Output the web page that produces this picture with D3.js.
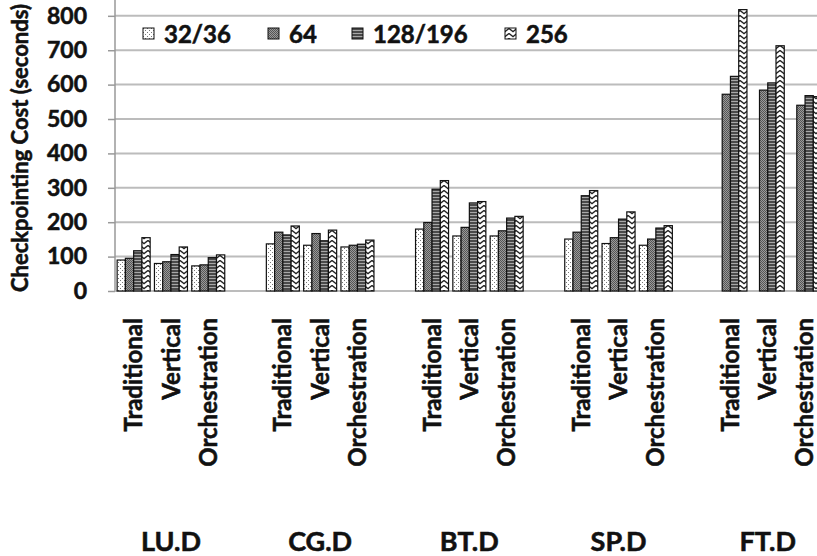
<!DOCTYPE html>
<html>
<head>
<meta charset="utf-8">
<script src="https://cdn.jsdelivr.net/npm/d3@7"></script>
<style>
  html, body { margin: 0; padding: 0; background: #fff; }
  svg { display: block; font-family: Lato, "Open Sans", sans-serif; font-weight: 700; }
  svg text { stroke: #111; stroke-width: 0.55px; }
</style>
</head>
<body>
<svg id="chart" width="817" height="556"></svg>
<script>
// Benchmarks, checkpointing schemes and process counts
const benchmarks = ["LU.D", "CG.D", "BT.D", "SP.D", "FT.D"];
const schemes = ["Traditional", "Vertical", "Orchestration"];
const seriesNames = ["32/36", "64", "128/196", "256"];

// Checkpointing cost in seconds, ordered benchmark by benchmark,
// Traditional / Vertical / Orchestration within each benchmark
const cost32 = [90, 80, 73, 137, 133, 128, 180, 160, 160, 151, 138, 133, null, null, null];
const cost64 = [95, 85, 76, 171, 167, 133, 199, 185, 175, 171, 155, 151, 572, 584, 540];
const cost128 = [117, 106, 97, 163, 146, 136, 296, 256, 212, 277, 209, 183, 624, 605, 568];
const cost256 = [155, 128, 105, 189, 177, 148, 321, 260, 217, 292, 230, 190, 818, 713, 565];

const yTicks = [0, 100, 200, 300, 400, 500, 600, 700, 800];

const seriesValues = [cost32, cost64, cost128, cost256];
const rows = [];
benchmarks.forEach((b, bi) => {
  schemes.forEach((s, si) => {
    seriesNames.forEach((n, ni) => {
      const v = seriesValues[ni][bi * schemes.length + si];
      if (v != null) rows.push({ bench: b, scheme: s, series: n, value: v });
    });
  });
});

const svg = d3.select("#chart");
const W = 817, H = 556;
const axisX = 115, step = 149.2;

// Patterns for the four series
const defs = svg.append("defs");
const pDots = defs.append("pattern").attr("id", "p32").attr("patternUnits", "userSpaceOnUse")
  .attr("width", 4).attr("height", 4);
pDots.append("rect").attr("width", 4).attr("height", 4).attr("fill", "#fff");
pDots.append("rect").attr("x", 0).attr("y", 0).attr("width", 1).attr("height", 1).attr("fill", "#777");
pDots.append("rect").attr("x", 2).attr("y", 2).attr("width", 1).attr("height", 1).attr("fill", "#777");

const pGrey = defs.append("pattern").attr("id", "p64").attr("patternUnits", "userSpaceOnUse")
  .attr("width", 2).attr("height", 2);
pGrey.append("rect").attr("width", 2).attr("height", 2).attr("fill", "#9a9a9a");
pGrey.append("rect").attr("x", 0).attr("y", 0).attr("width", 1).attr("height", 1).attr("fill", "#555");
pGrey.append("rect").attr("x", 1).attr("y", 1).attr("width", 1).attr("height", 1).attr("fill", "#555");

const pLines = defs.append("pattern").attr("id", "p128").attr("patternUnits", "userSpaceOnUse")
  .attr("width", 4).attr("height", 3);
pLines.append("rect").attr("width", 4).attr("height", 3).attr("fill", "#4a4a4a");
pLines.append("rect").attr("x", 0).attr("y", 2).attr("width", 4).attr("height", 1).attr("fill", "#a8a8a8");

const pWave = defs.append("pattern").attr("id", "p256").attr("patternUnits", "userSpaceOnUse")
  .attr("width", 8).attr("height", 5);
pWave.append("rect").attr("width", 8).attr("height", 5).attr("fill", "#fff");
pWave.append("path").attr("d", "M-1,4.5 L4,0.5 L9,4.5").attr("fill", "none")
  .attr("stroke", "#222").attr("stroke-width", 1.4);

const fills = { "32/36": "url(#p32)", "64": "url(#p64)", "128/196": "url(#p128)", "256": "url(#p256)" };

// Scales
const y = d3.scaleLinear().domain([0, 846]).range([291, 0]);
const x0 = d3.scaleBand().domain(benchmarks).range([axisX, axisX + step * benchmarks.length]).padding(0);
const x1 = d3.scaleBand().domain(schemes).range([0, x0.bandwidth() * 0.75]).padding(0);
const x2 = d3.scaleBand().domain(seriesNames).range([0, x1.bandwidth()]).paddingInner(0).paddingOuter(0.26);

// Gridlines
svg.append("g").selectAll("line").data(yTicks.filter(t => t > 0)).join("line")
  .attr("x1", axisX).attr("x2", W)
  .attr("y1", d => y(d)).attr("y2", d => y(d))
  .attr("stroke", "#bcbcbc").attr("stroke-width", 2);

// Y axis
const yAxis = d3.axisLeft(y).tickValues(yTicks).tickSize(7).tickPadding(21);
const gy = svg.append("g").attr("transform", `translate(${axisX},0)`).call(yAxis);
gy.select(".domain").remove();
gy.selectAll(".tick line").attr("stroke", "#999").attr("stroke-width", 1.5);
gy.selectAll(".tick text").attr("fill", "#111").style("font-size", "23px")
  .style("font-family", "Lato, sans-serif").style("font-weight", 700);
svg.append("line").attr("x1", axisX).attr("x2", axisX).attr("y1", 0).attr("y2", y(0))
  .attr("stroke", "#999").attr("stroke-width", 1.5);
svg.append("line").attr("x1", axisX).attr("x2", W).attr("y1", y(0)).attr("y2", y(0))
  .attr("stroke", "#bcbcbc").attr("stroke-width", 2);

// Bars
svg.append("g").selectAll("rect").data(rows).join("rect")
  .attr("x", d => x0(d.bench) + x1(d.scheme) + x2(d.series))
  .attr("y", d => y(d.value))
  .attr("width", x2.bandwidth())
  .attr("height", d => y(0) - y(d.value))
  .attr("fill", d => fills[d.series])
  .attr("stroke", "#111").attr("stroke-width", 1.2);

// Scheme labels under each cluster (kept inside the right edge)
const schemeLabels = [];
benchmarks.forEach(b => schemes.forEach(s => schemeLabels.push({ b, s })));
svg.append("g").selectAll("text").data(schemeLabels).join("text")
  .attr("transform", d => {
    const cx = Math.min(x0(d.b) + x1(d.s) + x1.bandwidth() / 2, W - 13);
    return `translate(${cx},318) rotate(-90)`;
  })
  .attr("text-anchor", "end").attr("dy", "0.36em")
  .attr("fill", "#111").style("font-size", "24px")
  .text(d => d.s);

// Benchmark labels
svg.append("g").selectAll("text").data(benchmarks).join("text")
  .attr("x", d => x0(d) + x1.bandwidth() * 1.5)
  .attr("y", 551)
  .attr("text-anchor", "middle")
  .attr("fill", "#111").style("font-size", "27px")
  .text(d => d);

// Y axis title
svg.append("text")
  .attr("transform", "translate(20,148) rotate(-90)")
  .attr("text-anchor", "middle").attr("dy", "0.36em")
  .attr("fill", "#111").style("font-size", "22px")
  .text("Checkpointing  Cost (seconds)");

// Legend
const legendX = [143, 268, 352, 505];
const lg = svg.append("g").selectAll("g").data(seriesNames).join("g")
  .attr("transform", (d, i) => `translate(${legendX[i]},28)`);
lg.append("rect").attr("width", 11).attr("height", 11)
  .attr("fill", d => fills[d]).attr("stroke", "#111").attr("stroke-width", 1);
lg.append("text").attr("x", 21).attr("y", 6).attr("dy", "0.36em")
  .attr("fill", "#111").style("font-size", "24px")
  .text(d => d);
</script>
</body>
</html>
